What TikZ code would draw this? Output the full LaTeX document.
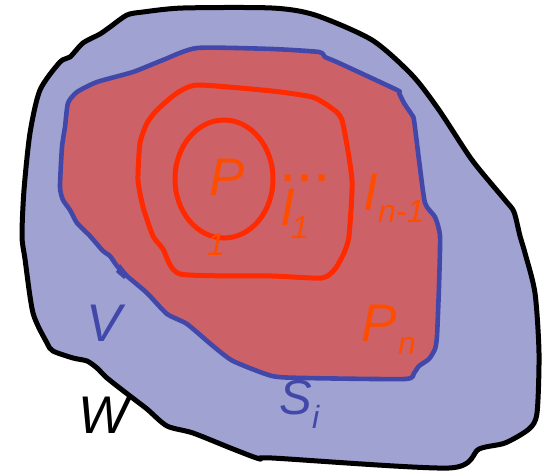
\documentclass[tikz,border=0pt]{standalone}
\usepackage{fontspec}
\newfontfamily\lsans{Liberation Sans}
\definecolor{bluefill}{RGB}{160,162,210}
\definecolor{bluestroke}{RGB}{66,72,170}
\definecolor{redfill}{RGB}{204,98,104}
\definecolor{redstroke}{RGB}{255,42,0}
\definecolor{txtorange}{RGB}{255,77,0}
\tikzset{
  big/.style={inner sep=0pt, anchor=base west, font=\lsans\itshape\fontsize{53}{60}\selectfont},
  small/.style={inner sep=0pt, anchor=base west, font=\lsans\itshape\fontsize{32}{38}\selectfont},
  mid/.style={inner sep=0pt, anchor=base west, font=\lsans\itshape\fontsize{49}{56}\selectfont},
}
\begin{document}
\begin{tikzpicture}[x=1pt,y=-1pt,line join=round]
\useasboundingbox (0,0) rectangle (544,472);
% outer region W
\draw[line width=5pt, fill=bluefill] plot[smooth cycle, tension=0.45] coordinates {
 (22,236) (24,190) (30,133) (40,90) (60,62) (70,57) (83,43) (100,34) (110,27) (127,15) (143,12) (183,8) (272,8) (315,15) (372,40) (412,75) (439,110) (472,160) (505,200) (514,212) (520,236) (525,253) (535,293) (539,353) (537,413) (529,429) (505,443) (479,449) (449,468) (272,458) (260,459) (233,449) (193,433) (167,426) (147,409) (130,396) (107,378) (97,368) (87,361) (73,358) (53,351) (47,343) (33,313) (25,259)};
% region S_i / P_n
\draw[line width=4.6pt, draw=bluestroke, fill=redfill] plot[smooth cycle, tension=0.35] coordinates {
 (197,48) (272,49) (319,52) (325,57) (339,63) (397,90) (399,93) (404,103) (412,115) (414,120) (419,160) (425,203) (435,217) (440,236) (439,286) (437,336) (435,349) (429,359) (419,366) (414,373) (405,379) (305,378) (272,376) (233,361) (213,346) (187,324) (167,314) (147,293) (127,276) (117,266) (110,256) (103,251) (90,236) (77,223) (70,210) (63,200) (60,187) (62,147) (65,127) (68,103) (77,92) (97,82) (133,72) (163,60)};
\fill[bluestroke] (120,264) -- (128,274) -- (124,279) -- (116,272) -- cycle;
% region I_{n-1}
\draw[line width=5pt, draw=redstroke] plot[smooth cycle, tension=0.35] coordinates {
 (198,85) (272,91) (312,97) (330,107) (342,120) (352,180) (349,236) (344,253) (335,269) (322,278) (272,276) (180,274) (163,249) (153,236) (143,207) (138,180) (140,143) (147,123) (157,110) (177,93)};
% P_1
\draw[line width=5pt, draw=redstroke] (224,179) ellipse [x radius=49, y radius=59];
% labels
\node[big, text=txtorange] (p1) at (209,195) {P};
\node[small, text=txtorange] (p1s) at (207,255) {1};
\node[big, text=txtorange] (i1) at (280,225) {I};
\node[small, text=txtorange] (i1s) at (291,238) {1};
\node[inner sep=0pt, anchor=base west, text=txtorange, font=\lsans\fontsize{62}{66}\selectfont] (dots) at (279,181) {...};
\node[big, text=txtorange] (in) at (363,210) {I};
\node[small, text=txtorange] (ins) at (378,222) {n-1};
\node[big, text=txtorange] (pn) at (361,341) {P};
\node[small, text=txtorange] (pns) at (398,354) {n};
\node[mid, text=bluestroke] (si) at (279,414) {S};
\node[small, text=bluestroke] (sis) at (312,428) {i};
\node[big, text=bluestroke] (v) at (86,341) {V};
\node[big, text=black] (w) at (78,433) {W};
\end{tikzpicture}
\end{document}
